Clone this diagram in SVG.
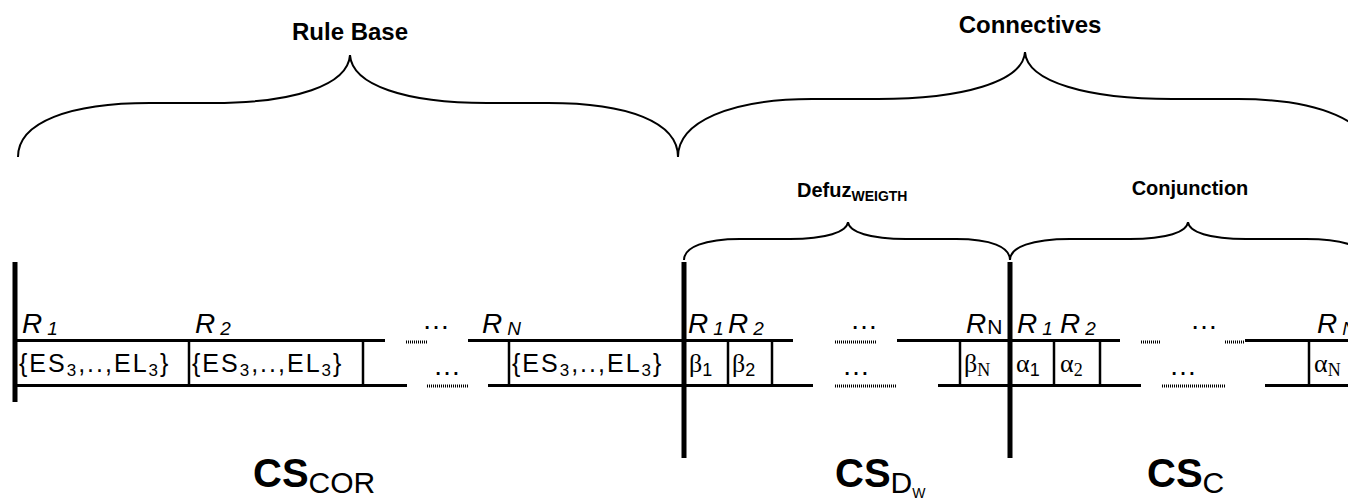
<svg xmlns="http://www.w3.org/2000/svg" width="1348" height="503" viewBox="0 0 1348 503">
<style>
.bg{fill:#fff}
.brace{fill:none;stroke:#000;stroke-width:2}
.thick{stroke:#000;stroke-width:5}
.rail{stroke:#000;stroke-width:3}
.sep{stroke:#000;stroke-width:2.5}
.dot{stroke:#000;stroke-width:3;stroke-dasharray:1 1}
.title{font-family:"Liberation Sans",Arial,sans-serif;font-weight:bold;font-size:24px;text-anchor:middle}
.sub{font-family:"Liberation Sans",Arial,sans-serif;font-weight:bold;font-size:20px}
.r{font-family:"Liberation Sans",Arial,sans-serif;font-style:italic;font-size:28px}
.cell{font-family:"Liberation Sans",Arial,sans-serif;font-size:25px;letter-spacing:2px}
.gr{font-family:"Liberation Serif","Times New Roman",serif;font-size:26px}
.gsub{font-family:"Liberation Sans",Arial,sans-serif;font-size:18px}
.ell{font-family:"Liberation Sans",Arial,sans-serif;font-size:28px;text-anchor:middle}
.cs{font-family:"Liberation Sans",Arial,sans-serif;font-weight:bold;font-size:40px}
.csub{font-family:"Liberation Sans",Arial,sans-serif;font-weight:normal;font-size:30px}
.csub2{font-family:"Liberation Sans",Arial,sans-serif;font-weight:normal;font-size:14px}
</style>
<rect class="bg" x="0" y="0" width="1348" height="503"/>
<g id="braces">
<path class="brace" d="M18,157 C18,122 70,103 150,103 L213,103 C295,103 348,85 350,55 C352,85 405,103 487,103 L548,103 C628,103 678,122 678,157"/>
<path class="brace" d="M678,157 C678,122 730,99 812,99 L878,99 C962,99 1023,82 1025,52 C1027,82 1088,99 1172,99 L1238,99 C1320,99 1372,122 1372,157"/>
<path class="brace" d="M684,260 C684,247 705,239 740,239 L790,239 C826,239 847,232 848,222 C849,232 870,239 906,239 L956,239 C991,239 1010,247 1010,260"/>
<path class="brace" d="M1010,260 C1010,247 1032,239 1070,239 L1130,239 C1167,239 1187,232 1188,222 C1189,232 1209,239 1246,239 L1306,239 C1344,239 1366,247 1366,260"/>
</g>
<g id="titles">
<text class="title" x="350" y="40">Rule Base</text>
<text class="title" x="1030" y="33">Connectives</text>
<text class="sub" x="797" y="197">Defuz<tspan font-size="14" dy="4">WEIGTH</tspan></text>
<text class="sub" x="1190" y="195" text-anchor="middle">Conjunction</text>
</g>
<g id="connectors">
<line class="thick" x1="15" y1="262" x2="15" y2="402"/>
<line class="thick" x1="684" y1="262" x2="684" y2="458"/>
<line class="thick" x1="1010" y1="262" x2="1010" y2="458"/>
<line class="rail" x1="15" y1="340.5" x2="385" y2="340.5"/>
<line class="dot" x1="406" y1="342" x2="427" y2="342"/>
<line class="rail" x1="468" y1="340.5" x2="793" y2="340.5"/>
<line class="dot" x1="835" y1="342" x2="876" y2="342"/>
<line class="rail" x1="897" y1="340.5" x2="1120" y2="340.5"/>
<line class="dot" x1="1141" y1="342" x2="1161" y2="342"/>
<line class="dot" x1="1225" y1="342" x2="1245" y2="342"/>
<line class="rail" x1="1245" y1="340.5" x2="1348" y2="340.5"/>
<line class="rail" x1="15" y1="385.5" x2="407" y2="385.5"/>
<line class="dot" x1="427" y1="386" x2="468" y2="386"/>
<line class="rail" x1="488" y1="385.5" x2="813" y2="385.5"/>
<line class="dot" x1="835" y1="386" x2="897" y2="386"/>
<line class="rail" x1="938" y1="385.5" x2="1141" y2="385.5"/>
<line class="dot" x1="1162" y1="386" x2="1225" y2="386"/>
<line class="rail" x1="1265" y1="385.5" x2="1348" y2="385.5"/>
<line class="sep" x1="189" y1="341" x2="189" y2="386"/>
<line class="sep" x1="363" y1="341" x2="363" y2="386"/>
<line class="sep" x1="509" y1="341" x2="509" y2="386"/>
<line class="sep" x1="728" y1="341" x2="728" y2="386"/>
<line class="sep" x1="772" y1="341" x2="772" y2="386"/>
<line class="sep" x1="960" y1="341" x2="960" y2="386"/>
<line class="sep" x1="1054" y1="341" x2="1054" y2="386"/>
<line class="sep" x1="1100" y1="341" x2="1100" y2="386"/>
<line class="sep" x1="1309" y1="341" x2="1309" y2="386"/>
</g>
<g id="cs-cor">
<text class="r" x="22" y="333">R<tspan font-size="19" dx="5" dy="2">1</tspan></text>
<text class="r" x="195" y="333">R<tspan font-size="19" dx="5" dy="2">2</tspan></text>
<text class="r" x="482" y="333">R<tspan font-size="19" dx="5" dy="2">N</tspan></text>
<text class="ell" x="436" y="329">…</text>
<text class="ell" x="447" y="375">…</text>
<text class="cell" x="19" y="372">{ES<tspan font-size="17" dy="4">3</tspan><tspan dy="-4">,..,EL</tspan><tspan font-size="17" dy="4">3</tspan><tspan dy="-4">}</tspan></text>
<text class="cell" x="192" y="372">{ES<tspan font-size="17" dy="4">3</tspan><tspan dy="-4">,..,EL</tspan><tspan font-size="17" dy="4">3</tspan><tspan dy="-4">}</tspan></text>
<text class="cell" x="512" y="372">{ES<tspan font-size="17" dy="4">3</tspan><tspan dy="-4">,..,EL</tspan><tspan font-size="17" dy="4">3</tspan><tspan dy="-4">}</tspan></text>
<text class="cs" x="253" y="487">CS<tspan class="csub" dy="6">COR</tspan></text>
</g>
<g id="cs-dw">
<text class="r" x="688" y="333">R<tspan font-size="19" dx="5" dy="2">1</tspan></text>
<text class="r" x="728" y="333">R<tspan font-size="19" dx="5" dy="2">2</tspan></text>
<text class="r" x="966" y="333">R<tspan font-style="normal" font-size="21" dx="1" dy="1">N</tspan></text>
<text class="gr" x="689" y="372">β<tspan class="gsub" dy="4">1</tspan></text>
<text class="gr" x="732" y="372">β<tspan class="gsub" dy="4">2</tspan></text>
<text class="gr" x="964" y="372">β<tspan font-size="18" dy="4">N</tspan></text>
<text class="ell" x="864" y="329">…</text>
<text class="ell" x="856" y="375">…</text>
<text class="cs" x="835" y="487">CS<tspan class="csub" dy="6">D</tspan><tspan class="csub2" dy="5">W</tspan></text>
</g>
<g id="cs-c">
<text class="r" x="1017" y="333">R<tspan font-size="19" dx="5" dy="2">1</tspan></text>
<text class="r" x="1060" y="333">R<tspan font-size="19" dx="5" dy="2">2</tspan></text>
<text class="r" x="1317" y="333">R<tspan font-size="19" dx="5" dy="2">N</tspan></text>
<text class="gr" x="1016" y="372">α<tspan class="gsub" dy="4">1</tspan></text>
<text class="gr" x="1060" y="372">α<tspan font-size="18" dy="4">2</tspan></text>
<text class="gr" x="1314" y="372">α<tspan font-size="18" dy="4">N</tspan></text>
<text class="ell" x="1204" y="329">…</text>
<text class="ell" x="1183" y="375">…</text>
<text class="cs" x="1147" y="487">CS<tspan class="csub" dy="6">C</tspan></text>
</g>
</svg>
